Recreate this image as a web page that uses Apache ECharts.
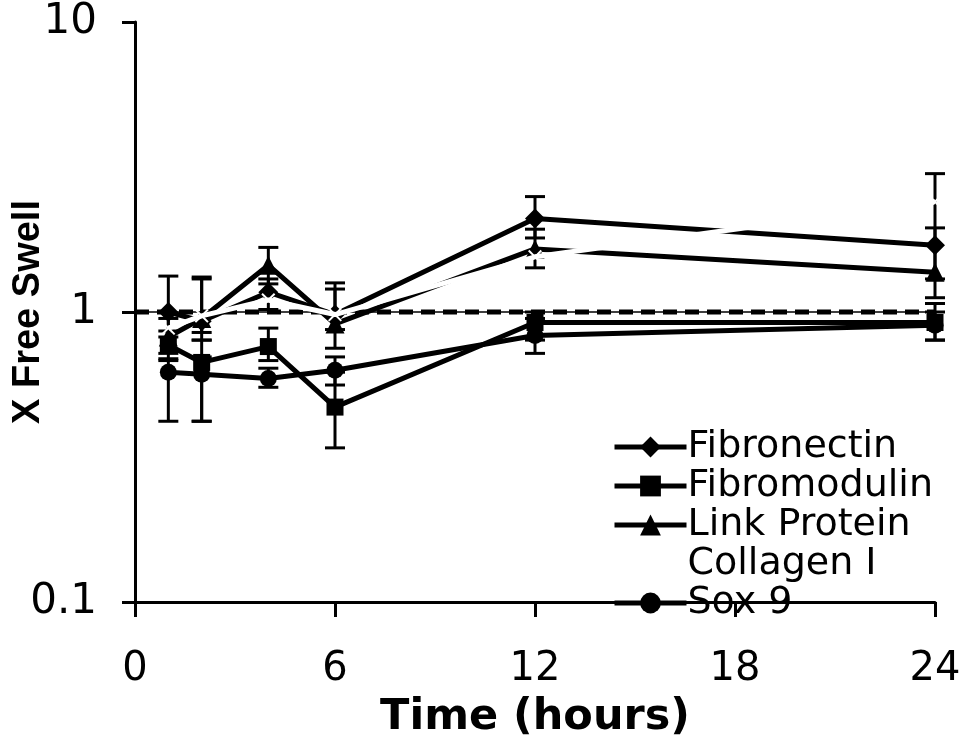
<!DOCTYPE html>
<html lang="en">
<head>
<meta charset="UTF-8">
<title>X Free Swell</title>
<script src="https://cdn.jsdelivr.net/npm/echarts@6/dist/echarts.min.js"></script>
</head>
<body style="margin:0;background:#fff">
<div id="chart" style="width:963px;height:738px"></div>
<script>
    // time points (hours) and axis ticks
    const hours = [1, 2, 4, 6, 12, 24];
    const xTicks = [0, 6, 12, 18, 24];
    const yTicks = [0.1, 1, 10];

    // X free swell
    const fibronectin   = [1.0, 0.93, 1.17, 0.98, 2.1, 1.7];
    const fibronectinLo = [0.82, 0.85, 1.02, 0.87, 1.8, 1.3];
    const fibronectinHi = [1.33, 1.32, 1.3, 1.2, 2.5, 3.0];

    const fibromodulin   = [0.77, 0.67, 0.76, 0.47, 0.92, 0.92];
    const fibromodulinLo = [0.68, 0.42, 0.68, 0.34, 0.8, 0.8];
    const fibromodulinHi = [0.86, 0.8, 0.88, 0.62, 1.0, 1.07];

    const linkProtein   = [0.82, 0.95, 1.45, 0.91, 1.65, 1.37];
    const linkProteinLo = [0.72, 0.8, 1.25, 0.75, 1.42, 1.12];
    const linkProteinHi = [0.95, 1.3, 1.67, 1.26, 1.93, 1.95];

    const collagenI = [0.88, 0.97, 1.1, 0.98, 1.55, 2.4];

    const sox9   = [0.62, 0.61, 0.59, 0.63, 0.83, 0.9];
    const sox9Lo = [0.42, 0.42, 0.55, 0.56, 0.72, 0.8];
    const sox9Hi = [0.69, 0.7, 0.64, 0.7, 0.95, 1.0];

    const controlLevel = 1;

    const xMark = 'path://M1,0 L5,4 L9,0 L10,1 L6,5 L10,9 L9,10 L5,6 L1,10 L0,9 L4,5 L0,1 Z';

    function pairs(values) {
        return hours.map((h, i) => [h, values[i]]);
    }

    function lineSeries(name, values, symbol, size, color) {
        return {
            name: name,
            type: 'line',
            data: pairs(values),
            symbol: symbol,
            symbolSize: size,
            z: color === '#fff' ? 4 : 3,
            itemStyle: { color: color },
            lineStyle: { color: color, width: 5 }
        };
    }

    function errorBars(lo, hi) {
        return {
            type: 'custom',
            silent: true,
            z: 2,
            data: hours.map((h, i) => [h, lo[i], hi[i]]),
            encode: { x: 0, y: [1, 2] },
            renderItem: function (params, api) {
                const x = api.value(0);
                const top = api.coord([x, api.value(2)]);
                const bot = api.coord([x, api.value(1)]);
                const w = 10;
                const st = { stroke: '#000', lineWidth: 3 };
                return {
                    type: 'group',
                    children: [
                        { type: 'line', shape: { x1: top[0], y1: top[1], x2: bot[0], y2: bot[1] }, style: st },
                        { type: 'line', shape: { x1: top[0] - w, y1: top[1], x2: top[0] + w, y2: top[1] }, style: st },
                        { type: 'line', shape: { x1: bot[0] - w, y1: bot[1], x2: bot[0] + w, y2: bot[1] }, style: st }
                    ]
                };
            }
        };
    }

    const chart = echarts.init(document.getElementById('chart'));

    const option = {
        animation: false,
        backgroundColor: '#fff',
        grid: { left: 135, right: 28, top: 22, bottom: 136, containLabel: false, outerBoundsMode: 'none' },
        legend: {
            orient: 'vertical',
            left: 612,
            top: 428,
            itemWidth: 72,
            itemHeight: 26,
            itemGap: 1,
            padding: 0,
            lineStyle: { width: 5 },
            data: ['Fibronectin', 'Fibromodulin', 'Link Protein', 'Collagen I', 'Sox 9'],
            textStyle: { fontFamily: 'DejaVu Sans', fontSize: 38, lineHeight: 38, color: '#000', padding: [0, 0, 0, -4] }
        },
        xAxis: {
            type: 'value',
            min: 0,
            max: 24,
            interval: 6,
            name: 'Time (hours)',
            nameLocation: 'middle',
            nameGap: 94,
            nameMoveOverlap: false,
            nameTextStyle: { fontFamily: 'DejaVu Sans', fontWeight: 'bold', fontSize: 43, color: '#000' },
            axisLine: { lineStyle: { color: '#000', width: 3 } },
            axisTick: { length: 15, lineStyle: { color: '#000', width: 3 } },
            axisLabel: {
                margin: 48,
                fontFamily: 'DejaVu Sans',
                fontSize: 40,
                color: '#000',
                formatter: v => xTicks.includes(v) ? String(v) : ''
            },
            splitLine: { show: false }
        },
        yAxis: {
            type: 'log',
            logBase: 10,
            min: 0.1,
            max: 10,
            name: 'X Free Swell',
            nameLocation: 'middle',
            nameGap: 87,
            nameMoveOverlap: false,
            nameTextStyle: { fontFamily: 'Liberation Sans', fontWeight: 'bold', fontSize: 38, color: '#000' },
            axisLine: { show: true, lineStyle: { color: '#000', width: 3 } },
            axisTick: { show: true, length: 13, lineStyle: { color: '#000', width: 3 } },
            axisLabel: {
                margin: 38,
                fontFamily: 'DejaVu Sans',
                fontSize: 42,
                color: '#000',
                formatter: v => {
                    const t = yTicks.find(k => Math.abs(k - v) < 1e-9);
                    return t === undefined ? '' : String(t);
                }
            },
            splitLine: { show: false },
            minorTick: { show: false }
        },
        series: [
            {
                type: 'line',
                silent: true,
                z: 1,
                data: [[0, controlLevel], [24, controlLevel]],
                symbol: 'none',
                lineStyle: { color: '#000', width: 5, type: [14, 8] }
            },
            {
                type: 'line',
                silent: true,
                z: 1,
                data: [[0, controlLevel], [24, controlLevel]],
                symbol: 'none',
                lineStyle: { color: '#000', width: 1.5 }
            },
            errorBars(fibronectinLo, fibronectinHi),
            errorBars(fibromodulinLo, fibromodulinHi),
            errorBars(linkProteinLo, linkProteinHi),
            errorBars(sox9Lo, sox9Hi),
            lineSeries('Fibronectin', fibronectin, 'diamond', 20, '#000'),
            lineSeries('Fibromodulin', fibromodulin, 'rect', 17, '#000'),
            lineSeries('Link Protein', linkProtein, 'triangle', 19, '#000'),
            lineSeries('Sox 9', sox9, 'circle', 17, '#000'),
            lineSeries('Collagen I', collagenI, xMark, 14, '#fff')
        ]
    };

    chart.setOption(option);
</script>
</body>
</html>
